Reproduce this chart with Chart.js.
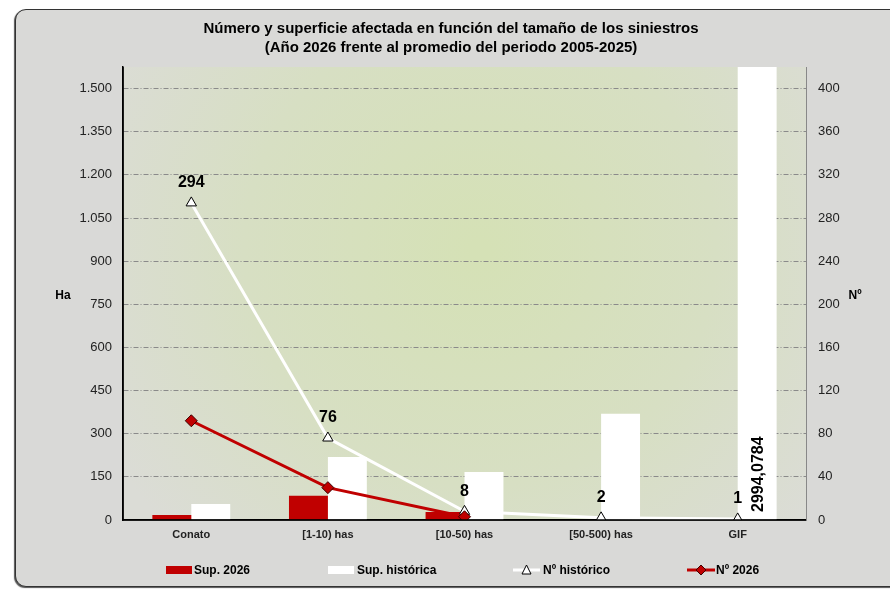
<!DOCTYPE html>
<html>
<head>
<meta charset="utf-8">
<script src="https://cdn.jsdelivr.net/npm/chart.js@4/dist/chart.umd.min.js"></script>
<style>
  html, body { margin: 0; padding: 0; background: #fff; }
  #panel {
    position: absolute; left: 15px; top: 9px; width: 890px; height: 576px;
    background: #d9d9d7; border: 1.5px solid #333; border-radius: 11px;
    box-shadow: -1px 1px 1px #555;
  }
  #wrap { position: absolute; left: 0; top: 0; width: 890px; height: 589px; }
</style>
</head>
<body>
<div id="panel"></div>
<div id="wrap"><canvas id="chart" width="890" height="589"></canvas></div>
<script>
// Datos
const categories = ['Conato', '[1-10) has', '[10-50) has', '[50-500) has', 'GIF'];
const supActual = [17, 84, 28, 0, 0];              // Ha, año 2026
const supHistorica = [56, 219, 167, 369, 2994.0784]; // Ha, promedio 2005-2025
const numHistorico = [294, 76, 8, 2, 1];           // nº, promedio
const numActual = [92, 30, 3, null, null];          // nº, año 2026
const haTicks = [0, 150, 300, 450, 600, 750, 900, 1050, 1200, 1350, 1500];
const numTicks = [0, 40, 80, 120, 160, 200, 240, 280, 320, 360, 400];

const FONT = '"Liberation Sans", Arial, sans-serif';
const RED = '#c00000';

const fmt = v => String(v).replace(/(\d)(?=(\d{3})+$)/, '$1.');

// Fondo degradado del área de trazado
const plotBackground = {
  id: 'plotBackground',
  beforeDraw(chart) {
    const { ctx, chartArea: a } = chart;
    const g = ctx.createRadialGradient(480, 250, 10, 480, 250, 420);
    g.addColorStop(0, '#d5e1b6');
    g.addColorStop(0.55, '#d7dfc3');
    g.addColorStop(1, '#dbdcd6');
    ctx.save();
    ctx.fillStyle = g;
    ctx.fillRect(a.left, a.top, a.right - a.left, a.bottom - a.top);
    ctx.restore();
  }
};

// Título, etiquetas de eje, rótulos de datos y leyenda
const extras = {
  id: 'extras',
  afterDraw(chart) {
    const { ctx, chartArea: a } = chart;
    ctx.save();
    ctx.setLineDash([]);
    ctx.fillStyle = '#000';
    ctx.textAlign = 'center';
    ctx.textBaseline = 'middle';
    ctx.font = 'bold 15px ' + FONT;
    ctx.fillText('Número y superficie afectada en función del tamaño de los siniestros', 451, 29);
    ctx.fillText('(Año 2026 frente al promedio del periodo 2005-2025)', 451, 48);

    ctx.font = 'bold 12px ' + FONT;
    ctx.fillText('Ha', 63, 296);
    ctx.fillText('Nº', 855, 296);

    // Rótulos Nº histórico
    ctx.font = 'bold 16px ' + FONT;
    const lineMeta = chart.getDatasetMeta(2);
    lineMeta.data.forEach((pt, i) => {
      ctx.fillText(String(numHistorico[i]), pt.x, pt.y - 20);
    });

    // Rótulo vertical de la barra GIF
    const gif = chart.getDatasetMeta(1).data[4];
    ctx.save();
    ctx.translate(gif.x + 1, a.bottom - 8);
    ctx.rotate(-Math.PI / 2);
    ctx.textAlign = 'left';
    ctx.fillText(String(supHistorica[4]).replace('.', ','), 0, 0);
    ctx.restore();

    // Leyenda
    const ly = 570;
    ctx.font = 'bold 12px ' + FONT;
    ctx.textAlign = 'left';
    ctx.fillStyle = RED;
    ctx.fillRect(166, ly - 4, 26, 8);
    ctx.fillStyle = '#fff';
    ctx.fillRect(328, ly - 4, 26, 8);
    ctx.strokeStyle = '#fff';
    ctx.lineWidth = 3;
    ctx.beginPath(); ctx.moveTo(513, ly); ctx.lineTo(540, ly); ctx.stroke();
    ctx.strokeStyle = RED;
    ctx.beginPath(); ctx.moveTo(687, ly); ctx.lineTo(715, ly); ctx.stroke();
    ctx.lineWidth = 1;
    ctx.strokeStyle = '#000';
    ctx.fillStyle = '#fff';
    ctx.beginPath(); ctx.moveTo(526.5, ly - 5); ctx.lineTo(531, ly + 4); ctx.lineTo(522, ly + 4); ctx.closePath();
    ctx.fill(); ctx.stroke();
    ctx.fillStyle = RED;
    ctx.strokeStyle = '#400000';
    ctx.beginPath(); ctx.moveTo(701, ly - 5); ctx.lineTo(706, ly); ctx.lineTo(701, ly + 5); ctx.lineTo(696, ly); ctx.closePath();
    ctx.fill(); ctx.stroke();

    ctx.fillStyle = '#000';
    ctx.fillText('Sup. 2026', 194, ly + 1);
    ctx.fillText('Sup. histórica', 357, ly + 1);
    ctx.fillText('Nº histórico', 543, ly + 1);
    ctx.fillText('Nº 2026', 716, ly + 1);
    ctx.restore();
  }
};

// Eje izquierdo redibujado sólido (la línea de rejilla va punteada)
const solidAxis = {
  id: 'solidAxis',
  afterDraw(chart) {
    const { ctx, chartArea: a } = chart;
    ctx.save();
    ctx.setLineDash([]);
    ctx.strokeStyle = '#000';
    ctx.lineWidth = 1.5;
    ctx.beginPath();
    ctx.moveTo(a.left, a.top);
    ctx.lineTo(a.left, a.bottom);
    ctx.lineTo(a.right, a.bottom);
    ctx.stroke();
    ctx.restore();
  }
};

new Chart(document.getElementById('chart'), {
  data: {
    labels: categories,
    datasets: [
      {
        type: 'bar', label: 'Sup. 2026', data: supActual, yAxisID: 'yHa',
        backgroundColor: RED, order: 2,
        barPercentage: 1, categoryPercentage: 0.57
      },
      {
        type: 'bar', label: 'Sup. histórica', data: supHistorica, yAxisID: 'yHa',
        backgroundColor: '#ffffff', order: 2,
        barPercentage: 1, categoryPercentage: 0.57
      },
      {
        type: 'line', label: 'Nº histórico', data: numHistorico, yAxisID: 'yNum',
        borderColor: '#ffffff', borderWidth: 3, order: 1,
        pointStyle: 'triangle', pointRadius: 6, pointBackgroundColor: '#ffffff',
        pointBorderColor: '#000', pointBorderWidth: 1
      },
      {
        type: 'line', label: 'Nº 2026', data: numActual, yAxisID: 'yNum',
        borderColor: RED, borderWidth: 3, order: 0,
        pointStyle: 'rectRot', pointRadius: 6, pointBackgroundColor: RED,
        pointBorderColor: '#3a0000', pointBorderWidth: 1
      }
    ]
  },
  options: {
    responsive: false,
    animation: false,
    layout: { padding: { top: 67, left: 0, right: 0, bottom: 0 } },
    plugins: {
      legend: { display: false },
      title: { display: false },
      tooltip: { enabled: false }
    },
    scales: {
      x: {
        grid: { display: false, drawTicks: false },
        border: { color: '#000', width: 1.5 },
        ticks: { color: '#222', font: { family: FONT, size: 11, weight: 'bold' }, padding: 8 },
        afterFit: s => { s.height = 69; }
      },
      yHa: {
        position: 'left', min: 0, max: 1575,
        afterBuildTicks: s => { s.ticks = haTicks.map(v => ({ value: v })); },
        afterFit: s => { s.width = 123; },
        border: { color: '#000', width: 1.5, dash: [5, 2, 1, 2] },
        grid: {
          drawTicks: false, lineWidth: 1,
          color: c => c.tick && c.tick.value === 0 ? 'rgba(0,0,0,0)' : '#8a8a8a'
        },
        ticks: { color: '#222', font: { family: FONT, size: 13 }, padding: 11, callback: v => fmt(v) }
      },
      yNum: {
        position: 'right', min: 0, max: 420,
        afterBuildTicks: s => { s.ticks = numTicks.map(v => ({ value: v })); },
        afterFit: s => { s.width = 84; },
        border: { color: '#888', width: 1 },
        grid: { display: false, drawTicks: false },
        ticks: { color: '#222', font: { family: FONT, size: 13 }, padding: 12 }
      }
    }
  },
  plugins: [plotBackground, extras, solidAxis]
});
</script>
</body>
</html>
